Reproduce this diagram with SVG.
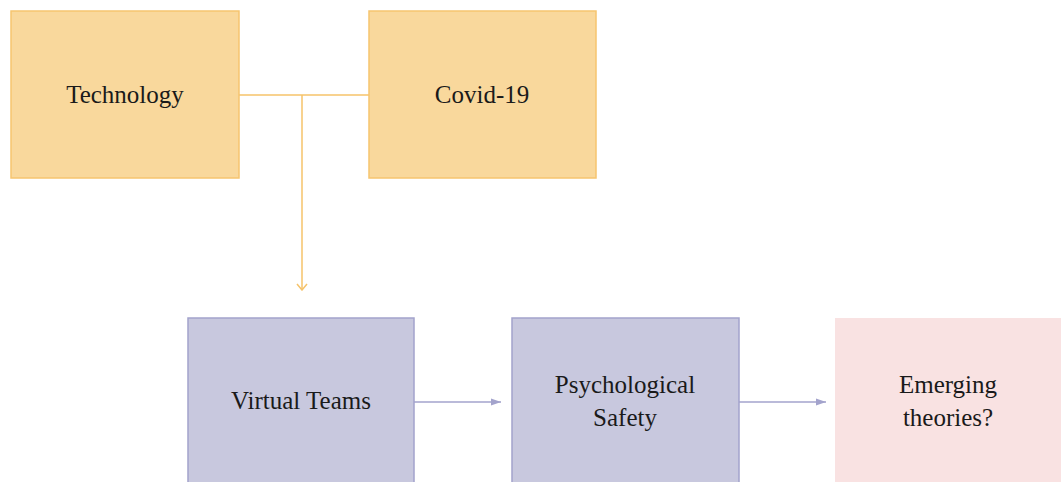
<svg xmlns="http://www.w3.org/2000/svg" width="1061" height="482" viewBox="0 0 1061 482">
<defs>
<style>
.t{font-family:"Liberation Serif","Times New Roman",serif;font-size:25px;fill:#1a1a1a;text-anchor:middle}
.o{fill:#F9D89C;stroke:#F6C56F;stroke-width:1.5}
.p{fill:#C8C8DE;stroke:#A3A3CC;stroke-width:1.5}
.k{fill:#F9E2E2}
.co{stroke:#F6C36A;stroke-width:1.5;fill:none}
.cp{stroke:#A3A3CC;stroke-width:1.5;fill:none}
</style>
<marker id="ao" markerWidth="12" markerHeight="12" refX="11" refY="6" orient="auto" markerUnits="userSpaceOnUse" viewBox="0 0 12 12">
<path d="M5,1 L11,6 L5,11" fill="none" stroke="#F6C36A" stroke-width="1.5"/>
</marker>
<marker id="ap" markerWidth="10" markerHeight="10" refX="10" refY="5" orient="auto" markerUnits="userSpaceOnUse" viewBox="0 0 10 10">
<path d="M0,1.5 L10,5 L0,8.5 Z" fill="#A3A3CC"/>
</marker>
</defs>
<rect width="1061" height="482" fill="#fff"/>
<g id="connectors">
<path class="co" d="M239,95 H369"/>
<path class="co" d="M302,95 V290" marker-end="url(#ao)"/>
<path class="cp" d="M414,402 H501" marker-end="url(#ap)"/>
<path class="cp" d="M739,402 H826" marker-end="url(#ap)"/>
</g>
<g id="technology"><rect class="o" x="11" y="11" width="228" height="167"/><text class="t" x="125" y="103">Technology</text></g>
<g id="covid"><rect class="o" x="369" y="11" width="227" height="167"/><text class="t" x="482" y="103">Covid-19</text></g>
<g id="virtual-teams"><rect class="p" x="188" y="318" width="226" height="170"/><text class="t" x="301" y="409">Virtual Teams</text></g>
<g id="psych-safety"><rect class="p" x="512" y="318" width="227" height="170"/><text class="t" x="625" y="393">Psychological</text><text class="t" x="625" y="426">Safety</text></g>
<g id="emerging"><rect class="k" x="835" y="318" width="230" height="170"/><text class="t" x="948" y="393">Emerging</text><text class="t" x="948" y="426">theories?</text></g>
</svg>
